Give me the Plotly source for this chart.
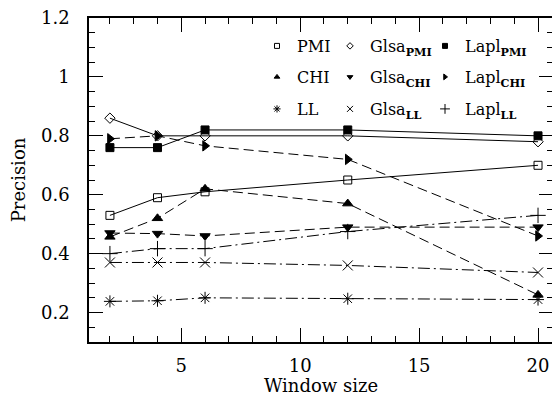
import plotly.graph_objects as go

window = [2, 4, 6, 12, 20]
pmi = [0.53, 0.59, 0.61, 0.65, 0.70]
glsa_pmi = [0.86, 0.80, 0.80, 0.80, 0.78]
lapl_pmi = [0.76, 0.76, 0.82, 0.82, 0.80]
chi = [0.457, 0.52, 0.62, 0.57, 0.26]
glsa_chi = [0.47, 0.468, 0.46, 0.49, 0.49]
lapl_chi = [0.79, 0.80, 0.766, 0.72, 0.46]
ll = [0.238, 0.24, 0.25, 0.247, 0.244]
glsa_ll = [0.37, 0.37, 0.37, 0.36, 0.336]
lapl_ll = [0.40, 0.417, 0.417, 0.475, 0.53]

names = ["PMI", "Glsa<sub><b>PMI</b></sub>", "Lapl<sub><b>PMI</b></sub>",
         "CHI", "Glsa<sub><b>CHI</b></sub>", "Lapl<sub><b>CHI</b></sub>",
         "LL", "Glsa<sub><b>LL</b></sub>", "Lapl<sub><b>LL</b></sub>"]
series = [pmi, glsa_pmi, lapl_pmi, chi, glsa_chi, lapl_chi, ll, glsa_ll, lapl_ll]
symbols = ["square-open", "diamond-open", "square",
           "triangle-up", "triangle-down", "triangle-right",
           "asterisk-open", "x-thin-open", "cross-thin-open"]
sizes = [8, 8, 8, 9, 9, 9, 10, 10, 11]
leg_sizes = [5, 5, 5, 5, 5, 5, 6, 6, 7]
dashes = ["solid"] * 3 + ["10px,5px"] * 3 + ["12px,4px,2px,4px"] * 3

fig = go.Figure()
for i in range(9):
    fig.add_trace(go.Scatter(
        x=window, y=series[i], mode="lines+markers", showlegend=False,
        line=dict(color="black", width=1, dash=dashes[i]),
        marker=dict(symbol=symbols[i], size=sizes[i], color="black",
                    line=dict(color="black", width=1)),
    ))

# The page body adds an 8px offset; the figure is sized so it ends at the window edge.
OFF = 8
FW, FH = 560 - OFF, 396 - OFF
L, R, T, B = 89, 553, 18, 342          # plot area in window pixels
W, H = R - L, B - T
col_px = [277, 350, 445]
row_px = [46, 77, 109]
for i in range(9):
    r, c = divmod(i, 3)
    key = "legend" if i == 0 else f"legend{i+1}"
    fig.add_trace(go.Scatter(
        x=[None], y=[None], mode="markers", name=names[i], legend=key,
        marker=dict(symbol=symbols[i], size=leg_sizes[i], color="black",
                    line=dict(color="black", width=1)),
    ))
    fig.layout[key] = dict(
        x=(col_px[c] - 20 - L) / W, y=(B - row_px[r]) / H,
        xanchor="left", yanchor="middle",
        bgcolor="rgba(0,0,0,0)", borderwidth=0, itemwidth=30,
        font=dict(family="DejaVu Serif", size=16, color="black"),
    )

axis_common = dict(
    showgrid=False, zeroline=False, showline=True, linecolor="black",
    mirror="allticks", ticks="inside", tickcolor="black", ticklen=14, tickwidth=1,
    ticklabeloverflow="allow", automargin=False,
    tickfont=dict(family="DejaVu Serif", size=18, color="black"),
    title_font=dict(family="DejaVu Serif", size=18, color="black"),
)
fig.update_xaxes(**axis_common, range=[1.12, 20.63], tick0=0, dtick=5, linewidth=2,
                 minor=dict(ticks="inside", dtick=1, tick0=0, ticklen=6,
                            tickcolor="black", tickwidth=1, showgrid=False),
                 title_text="Window size", ticklabelstandoff=6, title_standoff=14)
fig.update_yaxes(**axis_common, range=[0.1, 1.2001], tick0=0, dtick=0.2, linewidth=1.5,
                 minor=dict(ticks="inside", dtick=0.05, tick0=0, ticklen=6,
                            tickcolor="black", tickwidth=1, showgrid=False),
                 title_text="Precision", ticklabelstandoff=14, title_standoff=11)

fig.update_layout(
    width=FW, height=FH,
    margin=dict(l=L - OFF, r=560 - R, t=T - OFF, b=396 - B),
    plot_bgcolor="white", paper_bgcolor="white",
    font=dict(family="DejaVu Serif", size=16, color="black"),
)
fig.write_html("out.html")
